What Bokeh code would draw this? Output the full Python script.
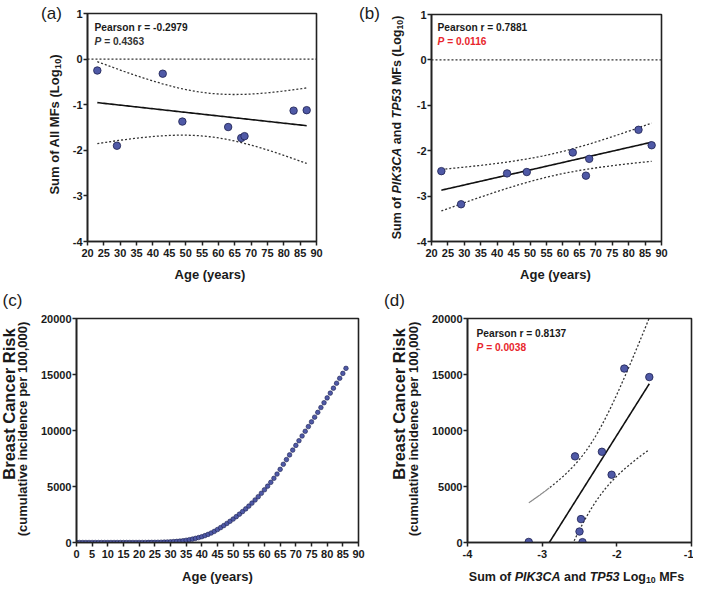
import numpy as np
from bokeh.plotting import figure
from bokeh.layouts import column, row
from bokeh.models import Label, FixedTicker, Span, Range1d
from bokeh.embed import file_html
from bokeh.resources import INLINE

# ---------------- data ----------------
ages = [23, 29, 43, 49, 63, 67, 68, 83, 87]
sum_all_mf = [-0.25, -1.90, -0.32, -1.37, -1.49, -1.73, -1.69, -1.13, -1.12]
sum_pik3ca_tp53 = [-2.45, -3.18, -2.50, -2.47, -2.04, -2.55, -2.18, -1.54, -1.88]

risk_age = list(range(0, 87))
risk_value = [0, 0, 0, 0, 0, 0, 0, 0, 0, 0,
              0, 0, 0, 0, 0, 1, 1, 1, 2, 2,
              3, 4, 6, 8, 11, 15, 20, 27, 36, 47,
              61, 79, 100, 126, 160, 200, 250, 305, 370, 440,
              520, 615, 725, 850, 995, 1160, 1330, 1510, 1700, 1895,
              2095, 2310, 2530, 2760, 3000, 3250, 3520, 3800, 4090, 4395,
              4710, 5030, 5370, 5730, 6110, 6530, 6980, 7400, 7820, 8250,
              8670, 9090, 9510, 9930, 10350, 10770, 11190, 11620, 12050, 12480,
              12910, 13340, 13780, 14220, 14660, 15100, 15550]

d_mf = [-3.18, -2.46, -2.50, -2.48, -2.56, -2.20, -2.07, -1.90, -1.565]
d_risk = [50, 30, 980, 2090, 7690, 8100, 6050, 15530, 14770]

age_ticks = list(range(20, 91, 5))
log_ticks = [-4, -3, -2, -1, 0, 1]
c_age_ticks = list(range(0, 91, 5))
risk_ticks = [0, 5000, 10000, 15000, 20000]
d_x_ticks = [-4, -3, -2, -1]

stats_a = ("Pearson r = -0.2979", "0.4363")
stats_b = ("Pearson r = 0.7881", "0.0116")
stats_d = ("Pearson r = 0.8137", "0.0038")

# ---------------- styling ----------------
FONT = "Liberation Sans"
INK = "#1a1a1a"
GREY_TXT = "#333333"
RED = "#e8262d"
DOT_FILL = "#4f59a6"
DOT_LINE = "#1d2150"
AXIS = "#222222"
DOTTED = "#333333"

AR = {' ': 278, '(': 333, ')': 333, ',': 278, '-': 333, '.': 278, '=': 584,
      'A': 722, 'B': 722, 'C': 722, 'D': 722, 'E': 667, 'F': 611, 'G': 778, 'H': 722,
      'I': 278, 'K': 722, 'L': 611, 'M': 833, 'P': 667, 'R': 722, 'S': 667, 'T': 611,
      'a': 556, 'b': 611, 'c': 556, 'd': 611, 'e': 556, 'f': 333, 'g': 611, 'h': 611,
      'i': 278, 'k': 556, 'l': 278, 'm': 889, 'n': 611, 'o': 611, 'p': 611, 'r': 389,
      's': 556, 't': 333, 'u': 611, 'v': 556, 'y': 556}


def tw(s, size):
    return sum(AR.get(ch, 556) for ch in s) / 1000.0 * size


def fit_band(x, y, xs, t=2.365):
    x = np.asarray(x, float)
    y = np.asarray(y, float)
    n = len(x)
    xm, ym = x.mean(), y.mean()
    sxx = ((x - xm) ** 2).sum()
    sxy = ((x - xm) * (y - ym)).sum()
    b = sxy / sxx
    a = ym - b * xm
    s = np.sqrt(((y - (a + b * x)) ** 2).sum() / (n - 2))
    yh = a + b * xs
    h = t * s * np.sqrt(1.0 / n + (xs - xm) ** 2 / sxx)
    return yh, yh - h, yh + h


def make_fig(origin, size, frame, xr, yr, xticks, yticks, overrides=None):
    ox, oy = origin
    fw, fh = size
    L, T, R, B = frame
    p = figure(output_backend="svg", toolbar_location=None,
               frame_width=R - L, frame_height=B - T,
               min_border_left=L - ox, min_border_right=ox + fw - R,
               min_border_top=T - oy, min_border_bottom=oy + fh - B,
               x_range=Range1d(*xr), y_range=Range1d(*yr))
    p.xgrid.grid_line_color = None
    p.ygrid.grid_line_color = None
    p.background_fill_color = "white"
    p.border_fill_color = "white"
    p.outline_line_color = AXIS
    p.outline_line_width = 1.6
    p.xaxis.ticker = FixedTicker(ticks=xticks)
    p.yaxis.ticker = FixedTicker(ticks=yticks)
    for ax in (p.xaxis[0], p.yaxis[0]):
        ax.axis_line_color = AXIS
        ax.axis_line_width = 1.6
        ax.major_tick_line_color = AXIS
        ax.major_tick_line_width = 1.5
        ax.major_tick_in = 0
        ax.major_tick_out = 4
        ax.minor_tick_line_color = None
        ax.major_label_text_font = FONT
        ax.major_label_text_font_style = "bold"
        ax.major_label_text_font_size = "11px"
        ax.major_label_text_color = INK
    if overrides:
        for ax, ticks in overrides:
            getattr(p, ax).major_label_overrides = {t: str(t) for t in ticks}
    p.xaxis.major_label_standoff = 3
    p.yaxis.major_label_standoff = 1
    p._frame = (L, T, R, B, xr[0], yr[0])
    return p


def blank(origin, w, h, frame_lr=None):
    """Text-only figure whose data coordinates are the picture's pixel coordinates."""
    ox, oy = origin
    if frame_lr is None:
        L, R = ox, ox + w
    else:
        L, R = frame_lr
    p = figure(output_backend="svg", toolbar_location=None, width=w, height=h,
               x_range=Range1d(L, R), y_range=Range1d(oy + h, oy),
               x_axis_type=None, y_axis_type=None,
               min_border_left=L - ox, min_border_right=ox + w - R,
               min_border_top=0, min_border_bottom=0)
    p.outline_line_color = None
    p.background_fill_color = "white"
    p.border_fill_color = "white"
    p._blank = True
    return p


def put(p, text, px, py, size, style="bold", color=INK, align="left", angle=0.0):
    """Place a text (vertically centred) at picture coordinates (px, py)."""
    if getattr(p, "_blank", False):
        lab = Label(x=px, y=py, text=text)
    else:
        L, T, R, B, x0, y0 = p._frame
        lab = Label(x=x0, y=y0, x_offset=px - L, y_offset=B - py, text=text)
    lab.text_font = FONT
    lab.text_font_size = f"{size}px"
    lab.text_font_style = style
    lab.text_color = color
    lab.text_align = align
    lab.text_baseline = "middle"
    lab.angle = angle
    p.add_layout(lab)


def rich_h(p, pieces, cx, cy, size):
    total = sum(tw(t, size * sc) for t, st, sc, dy in pieces)
    x = cx - total / 2.0
    for t, st, sc, dy in pieces:
        lead = tw(" ", size * sc) if t.startswith(" ") else 0
        put(p, t.strip(" "), x + lead, cy + dy * size, size * sc, style=st)
        x += tw(t, size * sc)


def rich_v(p, pieces, cx, cy, size):
    total = sum(tw(t, size * sc) for t, st, sc, dy in pieces)
    y = cy + total / 2.0
    for t, st, sc, dy in pieces:
        lead = tw(" ", size * sc) if t.startswith(" ") else 0
        put(p, t.strip(" "), cx + dy * size, y - lead, size * sc, style=st, angle=np.pi / 2)
        y -= tw(t, size * sc)


def stats(p, left, y1, y2, text1, pval, pcolor, size=10.2):
    put(p, text1, left, y1, size)
    put(p, "P", left, y2, size, style="bold italic", color=pcolor)
    put(p, "= " + pval, left + tw("P ", size), y2, size, color=pcolor)


def scatter(p, x, y, size=7.5, lw=0.8):
    p.scatter(x, y, size=size, fill_color=DOT_FILL, line_color=DOT_LINE, line_width=lw)


def dotted(p, x, y):
    p.line(x, y, line_color=DOTTED, line_width=1.3, line_dash="2 2")


SUB = 0.7
SUBDY = 0.26
LOG_OV = [("yaxis", log_ticks)]

# ---------------- panel (a) ----------------
sa = blank((0, 0), 66, 290)
pa = make_fig((66, 0), (288, 264), (87, 13, 316, 241), (20, 90), (-4, 1), age_ticks, log_ticks, LOG_OV)
xa = blank((66, 264), 288, 26, (87, 316))
pa.add_layout(Span(location=0, dimension="width", line_color=DOTTED, line_width=1.3, line_dash="2 2"))
xs = np.linspace(min(ages), max(ages), 120)
yh, lo, hi = fit_band(ages, sum_all_mf, xs)
dotted(pa, xs, lo)
dotted(pa, xs, hi)
pa.line(xs, yh, line_color="#111111", line_width=1.6)
scatter(pa, ages, sum_all_mf)
put(sa, "(a)", 51, 13, 17, style="normal", align="center")
stats(pa, 94, 26.5, 41, stats_a[0], stats_a[1], GREY_TXT)
rich_v(sa, [("Sum of All MFs (Log", "bold", 1.0, 0.0), ("10", "bold", SUB, SUBDY), (")", "bold", 1.0, 0.0)],
       54, 124, 13)
put(xa, "Age (years)", 209.5, 274, 13, align="center")

# ---------------- panel (b) ----------------
sb = blank((354, 0), 56, 290)
pb = make_fig((410, 0), (283, 264), (431, 14, 661, 241), (20, 90), (-4, 1), age_ticks, log_ticks, LOG_OV)
xb = blank((410, 264), 283, 26, (431, 661))
pb.add_layout(Span(location=0, dimension="width", line_color=DOTTED, line_width=1.3, line_dash="2 2"))
yh, lo, hi = fit_band(ages, sum_pik3ca_tp53, xs)
dotted(pb, xs, lo)
dotted(pb, xs, hi)
pb.line(xs, yh, line_color="#111111", line_width=1.6)
scatter(pb, ages, sum_pik3ca_tp53)
put(sb, "(b)", 369, 13, 17, style="normal", align="center")
stats(pb, 437, 26.7, 40.7, stats_b[0], stats_b[1], RED)
rich_v(sb, [("Sum of ", "bold", 1.0, 0.0), ("PIK3CA", "bold italic", 1.0, 0.0),
            (" and ", "bold", 1.0, 0.0), ("TP53", "bold italic", 1.0, 0.0),
            (" MFs (Log", "bold", 1.0, 0.0), ("10", "bold", SUB, SUBDY), (")", "bold", 1.0, 0.0)],
       396, 127, 12.5)
put(xb, "Age (years)", 555, 274, 13, align="center")

# ---------------- panel (c) ----------------
sc = blank((0, 290), 36, 295)
pc = make_fig((36, 290), (344, 275), (76, 318, 358, 542), (0, 90), (0, 20000), c_age_ticks, risk_ticks)
xc = blank((36, 565), 344, 20, (76, 358))
scatter(pc, risk_age, risk_value, size=4.6, lw=0.6)
put(sc, "(c)", 12, 300, 17, style="normal", align="center")
put(sc, "Breast Cancer Risk", 8.5, 403.5, 16.5, align="center", angle=np.pi / 2)
put(sc, "(cumulative incidence per 100,000)", 22, 428.5, 13, align="center", angle=np.pi / 2)
put(xc, "Age (years)", 217, 576, 13, align="center")

# ---------------- panel (d) ----------------
sd = blank((380, 290), 47, 295)
pd_ = make_fig((427, 290), (266, 275), (467, 318, 691, 542), (-4, -1), (0, 20000), d_x_ticks, risk_ticks,
               [("xaxis", d_x_ticks)])
xd = blank((427, 565), 266, 20, (467, 691))
xs_d = np.linspace(min(d_mf), max(d_mf), 200)
yh, lo, hi = fit_band(d_mf, d_risk, xs_d)
split = xs_d <= -2.90
pd_.line(xs_d[split], hi[split], line_color="#8a8a8a", line_width=1.2)
dotted(pd_, xs_d[~split], hi[~split])
dotted(pd_, xs_d, lo)
pd_.line(xs_d, yh, line_color="#111111", line_width=1.6)
scatter(pd_, d_mf, d_risk)
put(sd, "(d)", 394, 300, 17, style="normal", align="center")
stats(pd_, 476, 332.7, 346.7, stats_d[0], stats_d[1], RED)
put(sd, "Breast Cancer Risk", 398.5, 403.5, 16.5, align="center", angle=np.pi / 2)
put(sd, "(cumulative incidence per 100,000)", 413, 428.5, 13, align="center", angle=np.pi / 2)
rich_h(xd, [("Sum of ", "bold", 1.0, 0.0), ("PIK3CA", "bold italic", 1.0, 0.0),
            (" and ", "bold", 1.0, 0.0), ("TP53", "bold italic", 1.0, 0.0),
            (" Log", "bold", 1.0, 0.0), ("10", "bold", SUB, SUBDY), (" MFs", "bold", 1.0, 0.0)],
       576, 576, 12.5)

layout = column(
    row(row(sa, column(pa, xa)), row(sb, column(pb, xb))),
    row(row(sc, column(pc, xc)), row(sd, column(pd_, xd))),
)
open("out.html", "w").write(file_html(layout, INLINE))
